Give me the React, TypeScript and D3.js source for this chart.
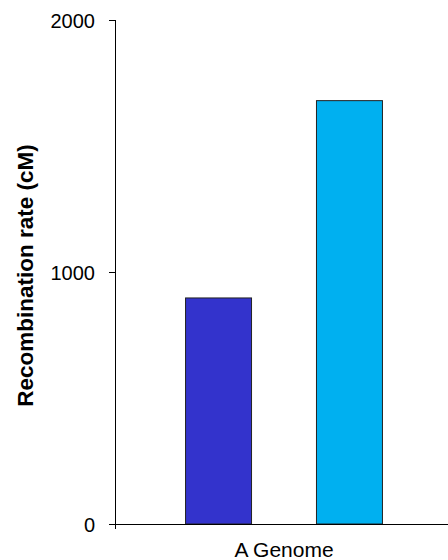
import React from "react";
import * as d3 from "d3";

const categories = ["A Genome"];
const seriesNames = ["Series 1", "Series 2"];
const seriesValues = [[897], [1680]];
const seriesColors = ["#3333CC", "#00B0F0"];
const yTicks = [0, 1000, 2000];
const yLabel = "Recombination rate (cM)";

export default function App() {
  const W = 448, H = 560;
  const y = d3.scaleLinear().domain([0, 2000]).range([524, 20]);
  const x0 = d3.scaleBand().domain(categories).range([116, 452]).paddingInner(0.261).paddingOuter(0.261);
  const x1 = d3.scaleBand().domain(seriesNames).range([0, x0.bandwidth()]).paddingInner(0.496).paddingOuter(0);
  const font = "'Liberation Sans', Arial, sans-serif";
  return (
    <svg width={W} height={H} style={{ position: "absolute", left: 0, top: 0, background: "#fff" }} fontFamily={font}>
      {categories.map((c, ci) => (
        <g key={c}>
          {seriesNames.map((s, si) => {
            const v = seriesValues[si][ci];
            const xx = (x0(c) ?? 0) + (x1(s) ?? 0);
            return (
              <rect key={s} x={xx} y={y(v)} width={x1.bandwidth()} height={y(0) - y(v)}
                fill={seriesColors[si]} stroke="#222" strokeWidth={1} />
            );
          })}
          <text x={(x0(c) ?? 0) + x0.bandwidth() / 2} y={557} textAnchor="middle" fontSize={21} fill="#000">{c}</text>
        </g>
      ))}
      <line x1={115.5} x2={115.5} y1={y(2000)} y2={y(0) + 5} stroke="#000" strokeWidth={1} />
      <line x1={115} x2={W} y1={y(0) + 0.5} y2={y(0) + 0.5} stroke="#000" strokeWidth={1} />
      {yTicks.map(t => (
        <g key={t}>
          <line x1={109} x2={115} y1={Math.round(y(t)) + 0.5} y2={Math.round(y(t)) + 0.5} stroke="#000" />
          <text x={95} y={y(t) + 7.5} textAnchor="end" fontSize={20} fill="#000">{t}</text>
        </g>
      ))}
      <text transform={`translate(33,275.5) rotate(-90)`} textAnchor="middle" fontSize={22.5} fontWeight="bold" fill="#000">{yLabel}</text>
    </svg>
  );
}
